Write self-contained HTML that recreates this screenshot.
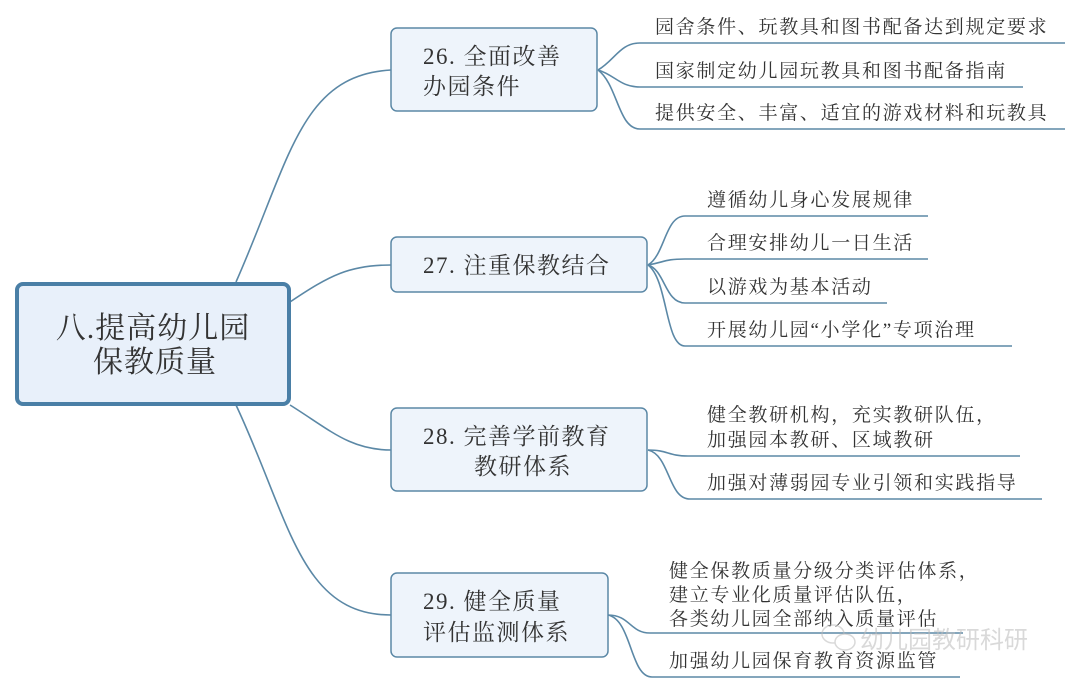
<!DOCTYPE html>
<html><head><meta charset="utf-8"><style>
html,body{margin:0;padding:0;background:#fff;}
svg{display:block;}
text{font-family:"Liberation Serif","Noto Serif CJK SC",serif;fill:#333;}
</style></head><body>
<svg width="1080" height="687" viewBox="0 0 1080 687" xmlns="http://www.w3.org/2000/svg">
<g fill="none" stroke="#5b88a6" stroke-width="1.6">
<path d="M236 282 C 290 160, 300 75, 391 70"/>
<path d="M290 302 C 330 275, 350 265, 391 265"/>
<path d="M290 405 C 330 430, 350 450, 391 450"/>
<path d="M236 405 C 290 520, 300 615, 391 615"/>
<path d="M598 70 C 615 60, 620 43, 640 43 L1065 43"/>
<path d="M598 70 C 615 75, 620 87, 640 87 L1023 87"/>
<path d="M598 70 C 618 85, 618 129, 640 129 L1065 129"/>
<path d="M648 265 C 665 255, 665 216, 685 216 L928 216"/>
<path d="M648 265 C 665 262, 665 259, 685 259 L928 259"/>
<path d="M648 265 C 665 270, 665 303, 685 303 L887 303"/>
<path d="M648 265 C 668 280, 665 346, 685 346 L1012 346"/>
<path d="M648 450 C 668 450, 668 456, 688 456 L1020 456"/>
<path d="M648 450 C 670 455, 668 499, 690 499 L1042 499"/>
<path d="M608 615 C 630 615, 630 633, 650 633 L963 633"/>
<path d="M608 615 C 632 620, 630 677, 652 677 L960 677"/>
</g>
<rect x="17" y="284" width="272" height="120" rx="6" fill="#e8f0fa" stroke="#4a7fa6" stroke-width="4"/>
<text x="153" y="338" font-size="30" letter-spacing="1" text-anchor="middle">八.提高幼儿园</text>
<text x="155" y="372" font-size="30" letter-spacing="1" text-anchor="middle">保教质量</text>
<g fill="#eef4fb" stroke="#5b88a6" stroke-width="1.5">
<rect x="391" y="28" width="206" height="83" rx="6"/>
<rect x="391" y="237" width="256" height="55" rx="6"/>
<rect x="391" y="408" width="256" height="83" rx="6"/>
<rect x="391" y="573" width="217" height="84" rx="6"/>
</g>
<g font-size="23" letter-spacing="1.5">
<text x="423" y="64">26. 全面改善</text>
<text x="423" y="94">办园条件</text>
<text x="423" y="273">27. 注重保教结合</text>
<text x="423" y="444">28. 完善学前教育</text>
<text x="474" y="474">教研体系</text>
<text x="423" y="609">29. 健全质量</text>
<text x="423" y="640">评估监测体系</text>
</g>
<g font-size="19" letter-spacing="1.7">
<text x="655" y="33">园舍条件、玩教具和图书配备达到规定要求</text>
<text x="655" y="77">国家制定幼儿园玩教具和图书配备指南</text>
<text x="655" y="119">提供安全、丰富、适宜的游戏材料和玩教具</text>
<text x="707" y="206">遵循幼儿身心发展规律</text>
<text x="707" y="249">合理安排幼儿一日生活</text>
<text x="707" y="293">以游戏为基本活动</text>
<text x="707" y="336">开展幼儿园“小学化”专项治理</text>
<text x="707" y="421">健全教研机构，充实教研队伍，</text>
<text x="707" y="446">加强园本教研、区域教研</text>
<text x="707" y="489">加强对薄弱园专业引领和实践指导</text>
<text x="669" y="577">健全保教质量分级分类评估体系，</text>
<text x="669" y="601">建立专业化质量评估队伍，</text>
<text x="669" y="625">各类幼儿园全部纳入质量评估</text>
<text x="669" y="667">加强幼儿园保育教育资源监管</text>
</g>
<g opacity="0.55">
<ellipse cx="833" cy="634" rx="11" ry="9" fill="none" stroke="#bbb" stroke-width="1.5"/>
<ellipse cx="845" cy="642" rx="10" ry="8" fill="#fff" stroke="#bbb" stroke-width="1.5"/>
<text x="860" y="648" font-size="24" style="fill:#bbb;font-family:'Liberation Sans','Noto Sans CJK SC',sans-serif">幼儿园教研科研</text>
</g>
</svg>
</body></html>
